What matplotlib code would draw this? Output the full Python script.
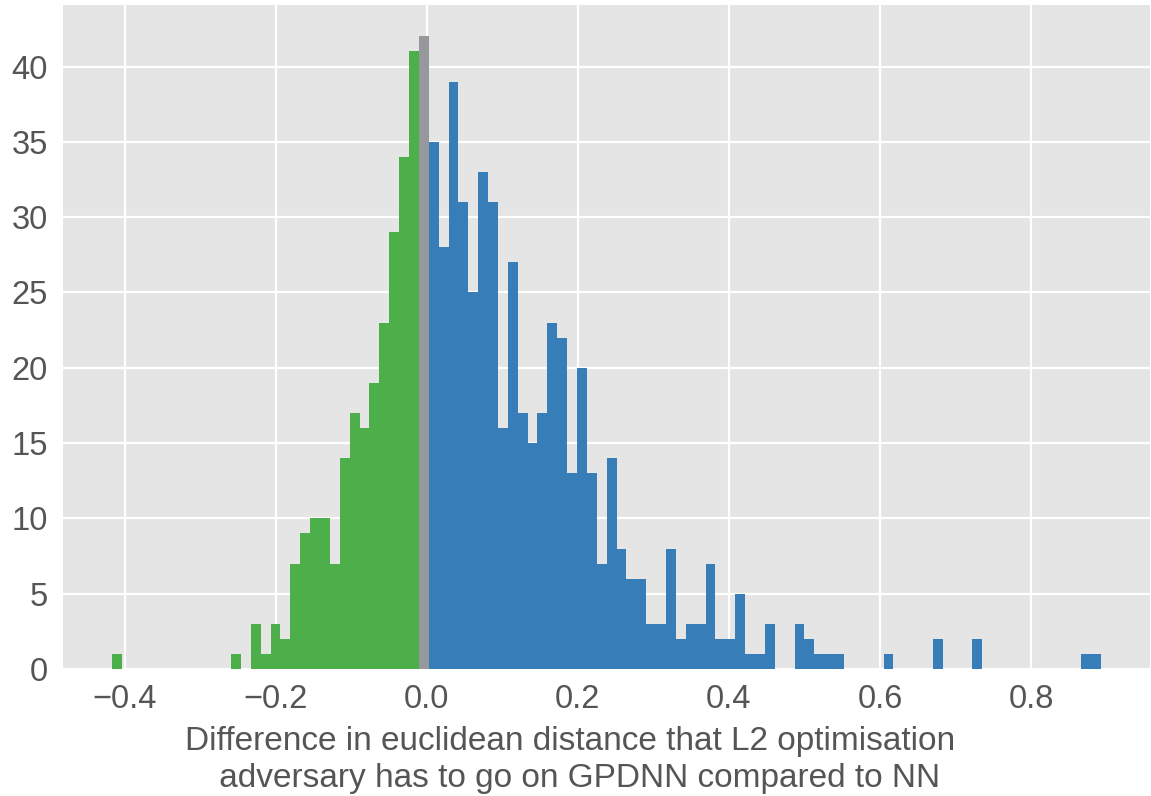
import numpy as np
import matplotlib.pyplot as plt

# histogram of 100 bins, counts
bin_lo = -0.4165
bin_hi = 0.8927
counts = [1, 0, 0, 0, 0, 0, 0, 0, 0, 0,
          0, 0, 1, 0, 3, 1, 3, 2, 7, 9,
          10, 10, 7, 14, 17, 16, 19, 23, 29, 34,
          41, 42, 35, 28, 39, 31, 25, 33, 31, 16,
          27, 17, 15, 17, 23, 22, 13, 20, 13, 7,
          14, 8, 6, 6, 3, 3, 8, 2, 3, 3,
          7, 2, 2, 5, 1, 1, 3, 0, 0, 3,
          2, 1, 1, 1, 0, 0, 0, 0, 1, 0,
          0, 0, 0, 2, 0, 0, 0, 2, 0, 0,
          0, 0, 0, 0, 0, 0, 0, 0, 1, 1]
xticks = [-0.4, -0.2, 0.0, 0.2, 0.4, 0.6, 0.8]
yticks = [0, 5, 10, 15, 20, 25, 30, 35, 40]
xlabel = "Difference in euclidean distance that L2 optimisation \n adversary has to go on GPDNN compared to NN"

green = "#4daf4a"
blue = "#377eb8"
grey = "#96989c"
txt = "#555555"

plt.rcParams['font.family'] = ['Liberation Sans', 'DejaVu Sans']

edges = np.linspace(bin_lo, bin_hi, len(counts) + 1)
left = edges[:-1]
right = edges[1:]
colours = []
for a, b in zip(left, right):
	if b <= 0:
		colours.append(green)
	elif a >= 0:
		colours.append(blue)
	else:
		colours.append(grey)

fig, ax = plt.subplots(figsize=(11.51, 7.96), dpi=100)
fig.subplots_adjust(left=0.0547, right=0.9995, top=0.994, bottom=0.1595)

ax.bar(left, counts, width=right - left, align="edge", color=colours,
       linewidth=0)

ax.set_facecolor("#e5e5e5")
for s in ax.spines.values():
	s.set_visible(False)
ax.set_axisbelow(True)
ax.grid(True, color="white", linewidth=1.6)

ax.set_xticks(xticks)
ax.set_yticks(yticks)
ax.set_xticklabels(["\u2212%.1f" % -t if t < 0 else "%.1f" % t for t in xticks])
ax.tick_params(axis="both", length=0, labelsize=23.5, colors=txt)
ax.tick_params(axis="x", pad=11)
ax.tick_params(axis="y", pad=11)

ax.set_xlabel(xlabel, fontsize=24, color=txt, linespacing=1.25)
ax.xaxis.set_label_coords(0.471, -0.085)
ax.xaxis.label.set_va("top")

fig.savefig("out.png", dpi=100)
